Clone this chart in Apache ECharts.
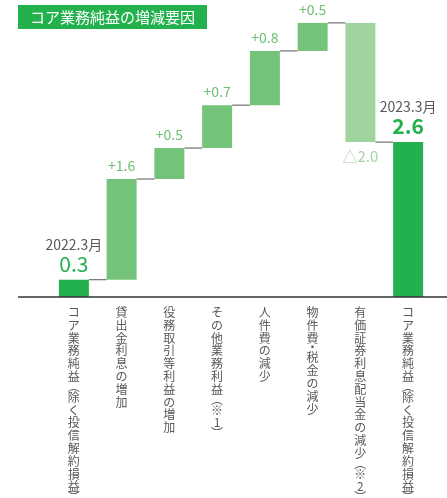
<!DOCTYPE html>
<html>
<head>
<meta charset="utf-8">
<script src="https://cdn.jsdelivr.net/npm/echarts@6/dist/echarts.min.js"></script>
<style>
html,body{margin:0;padding:0;background:#fff;}
#chart{width:447px;height:498px;}
</style>
</head>
<body>
<div id="chart"></div>
<script>
// ---- data ----
const titleText = 'コア業務純益の増減要因';
const categories = [
  'コア業務純益（除く投信解約損益）',
  '貸出金利息の増加',
  '役務取引等利益の増加',
  'その他業務利益（※1）',
  '人件費の減少',
  '物件費・税金の減少',
  '有価証券利息配当金の減少（※2）',
  'コア業務純益（除く投信解約損益）'
];
// bar heights (start total, changes, end total)
const startTotal = 0.29;
const changes = [1.69, 0.52, 0.72, 0.91, 0.47, -2.0];
const endTotal = 2.6;
// printed labels
const valueLabels = ['0.3', '+1.6', '+0.5', '+0.7', '+0.8', '+0.5', '△2.0', '2.6'];
const periodLabels = ['2022.3月', '2023.3月'];

// ---- build waterfall ----
const C_TOTAL = '#22b14c', C_UP = '#74c37a', C_DOWN = '#a0d49e';
const FONT = '"Noto Sans CJK JP","Noto Sans",sans-serif';
const LBL = '#595959';
const base = [], vis = [], connectors = [];
let cum = startTotal;
base.push(0);
vis.push({ value: startTotal, itemStyle: { color: C_TOTAL } });
connectors.push([0, cum]);
changes.forEach((v, k) => {
  const i = k + 1;
  if (v >= 0) {
    base.push(cum);
    vis.push({ value: v, itemStyle: { color: C_UP } });
    cum += v;
  } else {
    cum += v;
    base.push(cum);
    vis.push({ value: -v, itemStyle: { color: C_DOWN }, label: { position: 'bottom', distance: 5 } });
  }
  connectors.push([i, cum]);
});
base.push(0);
vis.push({ value: endTotal, itemStyle: { color: C_TOTAL } });

function vertical(s) {
  return Array.from(s).map(ch => {
    if (ch === '（') return '{p|︵}';
    if (ch === '）') return '{p|︶}';
    if (ch === '・') return '{d|・}';
    return '{c|' + ch + '}';
  }).join('\n');
}

const chart = echarts.init(document.getElementById('chart'), null, { renderer: 'canvas' });
const lastIdx = categories.length - 1;
const option = {
  animation: false,
  title: {
    text: titleText,
    left: 18, top: 5,
    padding: [4, 12],
    backgroundColor: C_TOTAL,
    textStyle: { color: '#fff', fontSize: 15, lineHeight: 16, fontWeight: 'normal', fontFamily: FONT }
  },
  grid: { left: 50, right: 15, top: 11, bottom: 201, containLabel: false, outerBoundsMode: 'none' },
  xAxis: {
    type: 'category',
    data: categories.map((c, i) => String(i)),
    axisLine: { show: false },
    axisTick: { show: false },
    axisLabel: {
      interval: 0,
      margin: 9,
      color: LBL,
      fontSize: 12,
      lineHeight: 13,
      fontFamily: FONT,
      verticalAlign: 'top',
      hideOverlap: false,
      formatter: (v) => vertical(categories[+v]),
      rich: {
        c: { fontSize: 12, lineHeight: 12.8, color: LBL, fontFamily: FONT },
        p: { fontSize: 12, lineHeight: 8, color: LBL, fontFamily: FONT },
        d: { fontSize: 12, lineHeight: 7, color: LBL, fontFamily: FONT }
      }
    }
  },
  yAxis: {
    type: 'value', min: 0, max: 4.8,
    show: false,
    splitLine: { show: false }
  },
  series: [
    {
      type: 'bar', stack: 'w', barWidth: 30,
      itemStyle: { color: 'rgba(0,0,0,0)' },
      emphasis: { disabled: true },
      data: base
    },
    {
      type: 'bar', stack: 'w', barWidth: 30,
      data: vis,
      label: {
        show: true,
        position: 'top',
        distance: 5,
        fontFamily: FONT,
        formatter: (p) => {
          const i = p.dataIndex;
          if (i === 0) return '{per|' + periodLabels[0] + '}\n{tot|' + valueLabels[0] + '}';
          if (i === lastIdx) return '{per|' + periodLabels[1] + '}\n{tot2|' + valueLabels[i] + '}';
          if (changes[i - 1] < 0) return '{neg|' + valueLabels[i] + '}';
          return '{pos|' + valueLabels[i] + '}';
        },
        rich: {
          per: { fontSize: 14, lineHeight: 17, color: LBL, fontFamily: FONT },
          tot: { fontSize: 21, lineHeight: 22, color: C_TOTAL, fontFamily: FONT },
          tot2: { fontSize: 21, lineHeight: 22, color: C_TOTAL, fontWeight: 'bold', fontFamily: FONT },
          pos: { fontSize: 14, lineHeight: 16, color: '#6ebf74', fontFamily: FONT },
          neg: { fontSize: 15, lineHeight: 18, color: '#a5d6a3', fontFamily: FONT }
        }
      }
    },
    {
      type: 'custom',
      z: 1,
      silent: true,
      data: connectors,
      renderItem: (params, api) => {
        const p = api.coord([api.value(0), api.value(1)]);
        const band = api.size([1, 0])[0];
        return {
          type: 'line',
          shape: { x1: p[0] + 15, y1: p[1], x2: p[0] + band - 15, y2: p[1] },
          style: { stroke: '#555', lineWidth: 1 }
        };
      }
    }
  ]
};
chart.setOption(option);
const y0 = chart.convertToPixel({ gridIndex: 0 }, [0, 0])[1];
chart.setOption({
  graphic: [{
    type: 'line', z: 10,
    shape: { x1: 18, y1: y0, x2: 447, y2: y0 },
    style: { stroke: '#333', lineWidth: 1.5 }
  }]
});
</script>
</body>
</html>
